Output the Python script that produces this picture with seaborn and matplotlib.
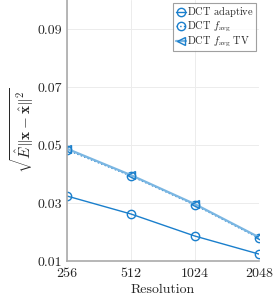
import matplotlib
matplotlib.use("Agg")
import matplotlib.pyplot as plt
import seaborn as sns
import pandas as pd

resolution = [256, 512, 1024, 2048]
dct_adaptive = [0.0324, 0.0262, 0.0186, 0.0124]
dct_favg = [0.0483, 0.0393, 0.0293, 0.0179]
dct_favg_tv = [0.0487, 0.0396, 0.0296, 0.0182]

sns.set_style("whitegrid")
plt.rcParams["font.family"] = ["cmr10", "DejaVu Serif"]
plt.rcParams["mathtext.fontset"] = "cm"
plt.rcParams["axes.formatter.use_mathtext"] = True

blue = "#1a7fcc"
light_blue = "#7ab6e2"

fig = plt.figure(figsize=(2.74, 2.99), dpi=100)
ax = fig.add_axes([0.245, 0.127, 0.700, 0.873])

sns.lineplot(x=resolution, y=dct_adaptive, ax=ax, color=blue, lw=1.0,
             marker="o", markersize=6, markerfacecolor="none",
             markeredgecolor=blue, markeredgewidth=1.0,
             label=r"$\mathrm{DCT\ adaptive}$")
sns.lineplot(x=resolution, y=dct_favg, ax=ax, color=blue, lw=1.0,
             linestyle=":", marker="o", markersize=6,
             markerfacecolor="none", markeredgecolor=blue,
             markeredgewidth=1.0, label=r"$\mathrm{DCT}\ f_{\mathrm{avg}}$")
sns.lineplot(x=resolution, y=dct_favg_tv, ax=ax, color=light_blue, lw=1.6,
             marker="<", markersize=6, markerfacecolor="none",
             markeredgecolor=blue, markeredgewidth=1.0,
             label=r"$\mathrm{DCT}\ f_{\mathrm{avg}}\ \mathrm{TV}$")

ax.set_xscale("log", base=2)
ax.set_xlim(256, 2048)
ax.set_ylim(0.01, 0.1)
ax.set_xticks(resolution)
ax.set_xticklabels([str(r) for r in resolution])
ax.set_yticks([0.01, 0.03, 0.05, 0.07, 0.09])
ax.set_yticklabels(["0.01", "0.03", "0.05", "0.07", "0.09"])
ax.minorticks_off()
ax.tick_params(labelsize=10, length=3, color="#888888", direction="in")
ax.tick_params(axis="x", pad=5)

ax.grid(True, color="#ececec", lw=0.7)
for side in ["top", "right"]:
    ax.spines[side].set_visible(False)
for side in ["left", "bottom"]:
    ax.spines[side].set_color("#aaaaaa")
    ax.spines[side].set_linewidth(1.2)

ax.set_xlabel("Resolution", fontsize=10, labelpad=3)
ax.set_ylabel(r"$\sqrt{\hat{E}\|\mathbf{x}-\hat{\mathbf{x}}\|^2}$",
              fontsize=11, labelpad=1)

leg = ax.legend(loc="upper right", fontsize=7.5, frameon=True, fancybox=False,
                borderpad=0.2, handlelength=1.0, handletextpad=0.1,
                labelspacing=0.05, borderaxespad=0.3)
leg.get_frame().set_edgecolor("#888888")
leg.get_frame().set_linewidth(0.8)

fig.savefig("out.png", dpi=100)
